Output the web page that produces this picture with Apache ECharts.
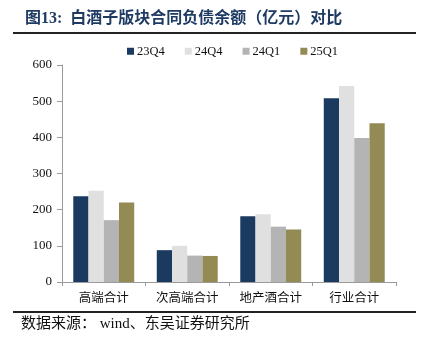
<!DOCTYPE html>
<html><head><meta charset="utf-8">
<script src="https://cdn.jsdelivr.net/npm/echarts@6/dist/echarts.min.js"></script>
<style>html,body{margin:0;padding:0;background:#fff}#c{width:422px;height:337px}</style>
</head><body><div id="c"></div>
<script>
const categories = ['高端合计', '次高端合计', '地产酒合计', '行业合计'];
const seriesNames = ['23Q4', '24Q4', '24Q1', '25Q1'];
const s23Q4 = [237, 88, 182, 508];
const s24Q4 = [252, 100, 187, 542];
const s24Q1 = [171, 73, 153, 398];
const s25Q1 = [220, 72, 145, 439];
const yTicks = [0, 100, 200, 300, 400, 500, 600];
const colors = ['#1a3a5f', '#e0e0e0', '#b4b4b4', '#948a54'];
const values = [s23Q4, s24Q4, s24Q1, s25Q1];

const chart = echarts.init(document.getElementById('c'), null, {renderer: 'canvas'});
const serif = '"Liberation Serif", "Noto Sans CJK SC", serif';
const cjk = '"Liberation Serif", "Noto Sans CJK SC", serif';
chart.setOption({
  animation: false,
  color: colors,
  title: {
    text: '图13:  白酒子版块合同负债余额（亿元）对比',
    left: 20, top: 6,
    textStyle: {fontSize: 16, fontWeight: 'bold', color: '#1f3b63', fontFamily: cjk}
  },
  graphic: [
    {type: 'line', shape: {x1: 13, y1: 33, x2: 416, y2: 33}, style: {stroke: '#222', lineWidth: 2}},
    {type: 'line', shape: {x1: 13, y1: 312, x2: 416, y2: 312}, style: {stroke: '#222', lineWidth: 2}},
    {type: 'text', left: 21, top: 317, style: {text: '数据来源： wind、东吴证券研究所', fill: '#111', font: '15px ' + cjk}}
  ],
  legend: {
    top: 40, left: 122,
    itemWidth: 7, itemHeight: 7, itemGap: 20,
    icon: 'rect',
    textStyle: {fontSize: 12.5, color: '#111', fontFamily: serif, padding: [0, 0, 0, -2]},
    data: seriesNames
  },
  grid: {left: 62, right: 26, top: 65, bottom: 55},
  xAxis: {
    type: 'category',
    data: categories,
    axisLine: {lineStyle: {color: '#9a9a9a', width: 1}},
    axisTick: {show: true, alignWithLabel: false, length: 4, lineStyle: {color: '#9a9a9a'}},
    axisLabel: {fontSize: 12.5, color: '#111', margin: 10, fontFamily: cjk}
  },
  yAxis: {
    type: 'value',
    min: yTicks[0], max: yTicks[yTicks.length - 1], interval: 100,
    splitLine: {show: false},
    axisLine: {show: true, lineStyle: {color: '#9a9a9a'}},
    axisTick: {show: true, length: 5, lineStyle: {color: '#9a9a9a'}},
    axisLabel: {fontSize: 13, color: '#111', margin: 10, fontFamily: serif}
  },
  series: seriesNames.map((n, i) => ({
    name: n, type: 'bar', data: values[i],
    barGap: '0%', barCategoryGap: '27%',
    itemStyle: {color: colors[i]}
  }))
});
</script></body></html>
